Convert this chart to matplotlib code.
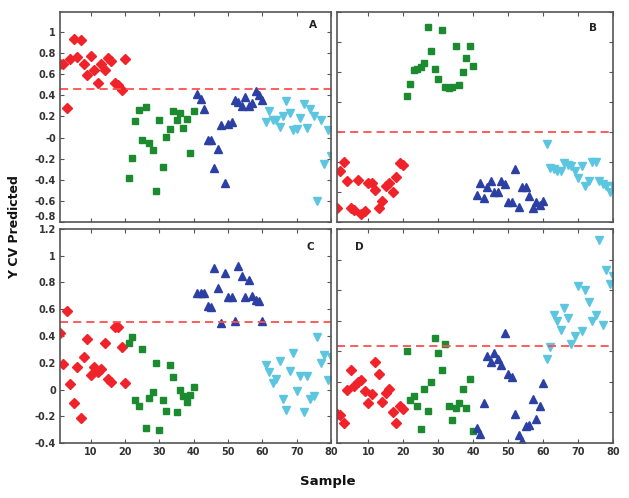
import numpy as np
import matplotlib
matplotlib.use("Agg")
import matplotlib.pyplot as plt
from matplotlib.ticker import FuncFormatter

samples = np.arange(1, 81)

# Panel A
a_red = [0.70, 0.70, 0.28, 0.74, 0.93, 0.76, 0.92, 0.70, 0.59, 0.77,
         0.64, 0.52, 0.70, 0.64, 0.75, 0.73, 0.52, 0.50, 0.45, 0.74]
a_green = [-0.38, -0.19, 0.16, 0.26, -0.02, 0.29, -0.05, -0.12, -0.51, 0.17,
           -0.28, 0.01, 0.08, 0.25, 0.17, 0.23, 0.09, 0.18, -0.15, 0.25]
a_blue = [0.41, 0.37, 0.27, -0.02, -0.02, -0.29, -0.11, 0.12, -0.43, 0.13,
          0.15, 0.36, 0.34, 0.30, 0.38, 0.30, 0.33, 0.44, 0.40, 0.36]
a_cyan = [0.15, 0.25, 0.17, 0.17, 0.10, 0.20, 0.35, 0.23, 0.07, 0.08,
          0.19, 0.32, 0.09, 0.27, 0.20, -0.60, 0.17, -0.25, 0.07, -0.17]
a_thr = 0.46

# Panel B
b_red = [-0.11, 0.14, 0.20, 0.07, -0.11, -0.12, 0.08, -0.15, -0.13, 0.06,
         0.06, 0.01, -0.11, -0.06, 0.04, 0.06, 0.00, 0.10, 0.19, 0.18]
b_green = [0.64, 0.72, 0.81, 0.82, 0.83, 0.86, 1.10, 0.94, 0.82, 0.75,
           1.08, 0.70, 0.69, 0.70, 0.97, 0.71, 0.80, 0.89, 0.97, 0.84]
b_blue = [-0.02, 0.06, -0.04, 0.03, 0.07, 0.00, 0.00, 0.07, 0.05, -0.07,
          -0.07, 0.15, -0.10, 0.03, 0.03, -0.03, -0.11, -0.07, -0.09, -0.06]
b_cyan = [0.32, 0.16, 0.15, 0.14, 0.14, 0.19, 0.18, 0.17, 0.14, 0.09,
          0.17, 0.04, 0.07, 0.20, 0.20, 0.07, 0.05, 0.04, 0.00, 0.04]
b_thr = 0.40

# Panel C
c_red = [0.42, 0.19, 0.585, 0.04, -0.10, 0.17, -0.21, 0.24, 0.38, 0.11,
         0.17, 0.13, 0.15, 0.35, 0.08, 0.055, 0.47, 0.47, 0.32, 0.05]
c_green = [0.345, 0.39, -0.08, -0.12, 0.30, -0.29, -0.065, -0.02, 0.20, -0.30,
           -0.075, -0.16, 0.18, 0.09, -0.165, 0.00, -0.05, -0.09, -0.04, 0.015]
c_blue = [0.72, 0.72, 0.72, 0.625, 0.62, 0.91, 0.76, 0.50, 0.87, 0.695,
          0.695, 0.51, 0.92, 0.85, 0.695, 0.82, 0.70, 0.67, 0.66, 0.515]
c_cyan = [0.18, 0.13, 0.05, 0.08, 0.21, -0.07, -0.15, 0.14, 0.27, -0.01,
          0.10, -0.17, 0.10, -0.07, -0.05, 0.39, 0.20, 0.26, 0.07, 0.24]
c_thr = 0.505

# Panel D
d_red = [-0.21, -0.22, -0.27, -0.055, 0.08, -0.025, 0.00, 0.01, -0.06, -0.14,
         -0.08, 0.13, 0.05, -0.13, -0.07, -0.045, -0.20, -0.27, -0.16, -0.18]
d_green = [0.20, -0.12, -0.09, -0.16, -0.31, -0.05, -0.19, 0.00, 0.29, 0.19,
           0.08, 0.25, -0.16, -0.25, -0.17, -0.14, -0.05, -0.17, 0.02, -0.32]
d_blue = [-0.30, -0.34, -0.14, 0.17, 0.13, 0.19, 0.15, 0.11, 0.32, 0.05,
          0.03, -0.21, -0.345, -0.385, -0.29, -0.28, -0.11, -0.24, -0.16, -0.01]
d_cyan = [0.15, 0.23, 0.44, 0.40, 0.34, 0.48, 0.42, 0.25, 0.30, 0.625,
          0.33, 0.60, 0.52, 0.40, 0.44, 0.93, 0.37, 0.73, 0.64, 0.69]
d_thr = 0.232

panel_labels = ["A", "B", "C", "D"]

RED = "#f0232b"
GREEN = "#1c8a2e"
BLUE = "#2c3fa3"
CYAN = "#5cc6e0"
THR = "#ff5050"
SPINE = "#555555"
TXT = "#333333"

W, H = 629, 498
fig = plt.figure(figsize=(W / 100, H / 100), dpi=100)


def add_ax(l, r, t, b):
    return fig.add_axes([l / W, 1 - b / H, (r - l) / W, (b - t) / H])


axA = add_ax(60, 331, 12, 222)
axB = add_ax(337, 613, 12, 222)
axC = add_ax(60, 331, 229, 443)
axD = add_ax(337, 613, 229, 443)

panels = [
    (axA, a_red, a_green, a_blue, a_cyan, a_thr, (-0.8, 1.19), np.arange(-0.8, 1.01, 0.2)),
    (axB, b_red, b_green, b_blue, b_cyan, b_thr, (-0.2, 1.2), np.arange(-0.2, 1.21, 0.2)),
    (axC, c_red, c_green, c_blue, c_cyan, c_thr, (-0.4, 1.2), np.arange(-0.4, 1.21, 0.2)),
    (axD, d_red, d_green, d_blue, d_cyan, d_thr, (-0.4, 1.0), np.arange(-0.4, 1.01, 0.2)),
]

fmt = FuncFormatter(lambda v, p: ("%g" % round(v, 2)))

for i, (ax, r, g, bl, cy, thr, ylim, yt) in enumerate(panels):
    ax.plot(samples[:20], r, ls="none", marker="D", ms=4.6, color=RED, mec=RED)
    ax.plot(samples[20:40], g, ls="none", marker="s", ms=4.3, color=GREEN, mec=GREEN)
    ax.plot(samples[40:60], bl, ls="none", marker="^", ms=5.4, color=BLUE, mec=BLUE)
    ax.plot(samples[60:80], cy, ls="none", marker="v", ms=5.4, color=CYAN, mec=CYAN)
    ax.axhline(thr, color=THR, lw=1.3, ls=(0, (4.5, 2.8)))
    ax.set_xlim(1, 80)
    ax.set_ylim(*ylim)
    ax.set_xticks(np.arange(10, 81, 10))
    ax.set_yticks(yt)
    ax.yaxis.set_major_formatter(fmt)
    ax.tick_params(direction="in", length=3, width=0.8, top=True, right=True,
                   colors=SPINE, labelcolor=TXT, labelsize=7, pad=3)
    for lab in ax.get_xticklabels() + ax.get_yticklabels():
        lab.set_fontweight("bold")
    for s in ax.spines.values():
        s.set_color(SPINE)
        s.set_linewidth(1.2)
    if i in (0, 1):
        ax.set_xticklabels([])
    if i in (1, 3):
        ax.set_yticklabels([])

# lowest label of panel A sits just above panel C's top label
fig.canvas.draw()
axA.get_yticklabels()[0].set_verticalalignment("bottom")

axA.text(0.934, 0.94, "A", transform=axA.transAxes, ha="center", va="center",
         fontsize=7.5, fontweight="bold", color="#222222")
axB.text(0.928, 0.924, "B", transform=axB.transAxes, ha="center", va="center",
         fontsize=7.5, fontweight="bold", color="#222222")
axC.text(0.922, 0.916, "C", transform=axC.transAxes, ha="center", va="center",
         fontsize=7.5, fontweight="bold", color="#222222")
axD.text(0.08, 0.916, "D", transform=axD.transAxes, ha="center", va="center",
         fontsize=7.5, fontweight="bold", color="#222222")

fig.text(15 / W, 1 - 227 / H, "Y CV Predicted", rotation=90, ha="center",
         va="center", fontsize=9, fontweight="bold", color="#111111")
fig.text(328 / W, 1 - 481 / H, "Sample", ha="center", va="center",
         fontsize=9.5, fontweight="bold", color="#111111")

fig.savefig("out.png", dpi=100)
